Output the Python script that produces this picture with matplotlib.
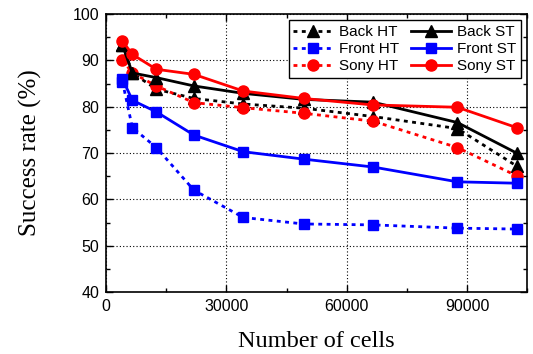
import numpy as np
import matplotlib
matplotlib.use('Agg')
import matplotlib.pyplot as plt
from matplotlib.ticker import MultipleLocator

cells = [4096, 6561, 12544, 21904, 34225, 49284, 66564, 87616, 102400]
back_ht = [93.3, 87.3, 83.8, 81.8, 80.6, 79.7, 77.9, 75.3, 67.2]
back_st = [93.3, 87.3, 86.3, 84.5, 82.9, 81.6, 81.0, 76.6, 70.0]
front_ht = [85.4, 75.5, 71.2, 62.0, 56.1, 54.7, 54.5, 53.8, 53.6]
front_st = [86.0, 81.4, 78.9, 73.9, 70.3, 68.7, 67.0, 63.8, 63.5]
sony_ht = [90.1, 87.3, 84.5, 80.9, 79.8, 78.6, 76.9, 71.2, 65.1]
sony_st = [94.2, 91.3, 88.1, 87.0, 83.4, 81.8, 80.4, 79.9, 75.5]

sans = 'Liberation Sans'
serif = 'Liberation Serif'

fig = plt.figure(figsize=(5.33, 3.54), dpi=100)
ax = fig.add_axes([0.199, 0.175, 0.79, 0.785])

dash = (0, (1.4, 1.6))
ax.plot(cells, back_ht, color='black', ls=dash, lw=2, marker='^', ms=8, label='Back HT')
ax.plot(cells, front_ht, color='blue', ls=dash, lw=2, marker='s', ms=7, label='Front HT')
ax.plot(cells, sony_ht, color='red', ls=dash, lw=2, marker='o', ms=8, label='Sony HT')
ax.plot(cells, back_st, color='black', ls='-', lw=2, marker='^', ms=8, label='Back ST')
ax.plot(cells, front_st, color='blue', ls='-', lw=2, marker='s', ms=7, label='Front ST')
ax.plot(cells, sony_st, color='red', ls='-', lw=2, marker='o', ms=8, label='Sony ST')

ax.set_xlim(0, 105000)
ax.set_ylim(40, 100)
ax.xaxis.set_major_locator(MultipleLocator(30000))
ax.xaxis.set_minor_locator(MultipleLocator(15000))
ax.yaxis.set_major_locator(MultipleLocator(10))
ax.yaxis.set_minor_locator(MultipleLocator(5))
ax.tick_params(which='both', direction='in', top=True, right=True, width=1)
ax.tick_params(which='major', length=5, labelsize=11.5, pad=5)
ax.tick_params(which='minor', length=3)
for lab in ax.get_xticklabels() + ax.get_yticklabels():
    lab.set_fontfamily(sans)
ax.grid(True, which='major', color='black', ls=(0, (1, 2)), lw=0.8)
for s in ax.spines.values():
    s.set_linewidth(1.2)

ax.set_xlabel('Number of cells', fontfamily=serif, fontsize=17.5, labelpad=12)
ax.set_ylabel('Success rate (%)', fontfamily=serif, fontsize=18, labelpad=22)

leg = ax.legend(ncol=2, loc='upper right', prop={'family': sans, 'size': 11},
                fancybox=False, edgecolor='black', framealpha=1,
                handlelength=2.6, columnspacing=0.8, handletextpad=0.4,
                labelspacing=0.2, borderaxespad=0.4, borderpad=0.3)
leg.get_frame().set_linewidth(1.0)

fig.savefig('out.png', dpi=100)
